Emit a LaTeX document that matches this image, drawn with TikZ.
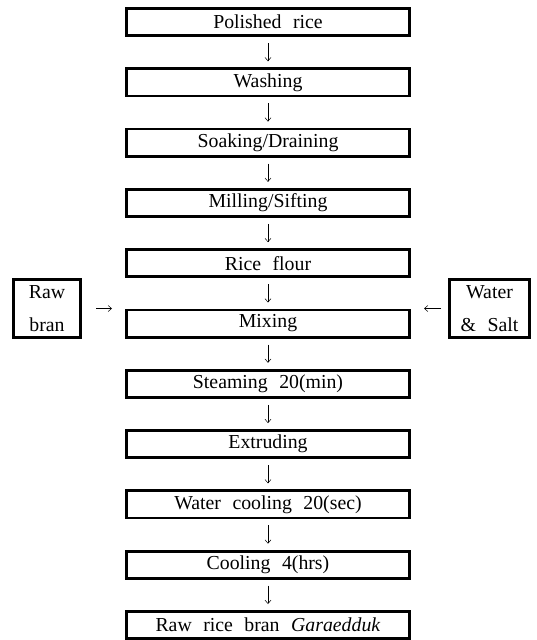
\documentclass[tikz,border=0pt]{standalone}
\usepackage{fontspec}
\setmainfont{Liberation Serif}
\usetikzlibrary{arrows.meta}
\newcommand{\widesp}{\spaceskip=0.58em plus 0.1em\relax}
\tikzset{
  stepbox/.style={draw, line width=2.8pt, minimum width=283.2pt, minimum height=27.2pt, inner sep=0pt,
    font=\fontsize{19.8}{22}\selectfont\widesp},
  sidebox/.style={draw, line width=2.8pt, inner sep=0pt, align=center,
    font=\fontsize{19.8}{33}\selectfont\widesp},
  arr/.style={line width=0.5pt, -{Straight Barb[length=3.5pt,width=6pt]}},
}
\begin{document}
\begin{tikzpicture}[x=1pt,y=-1pt]
\useasboundingbox (0,0) rectangle (536,640);
\node[stepbox] (a) at (268,22.0) {Polished rice};
\node[stepbox] (b) at (268,82.3) {Washing};
\node[stepbox] (c) at (268,142.6) {Soaking/Draining};
\node[stepbox] (d) at (268,202.9) {Milling/Sifting};
\node[stepbox] (e) at (268,263.2) {Rice flour};
\node[stepbox] (f) at (268,323.5) {Mixing};
\node[stepbox] (g) at (268,383.8) {Steaming 20(min)};
\node[stepbox] (h) at (268,444.1) {Extruding};
\node[stepbox] (k) at (268,504.4) {Water cooling 20(sec)};
\node[stepbox] (l) at (268,564.7) {Cooling 4(hrs)};
\node[stepbox] (m) at (268,625.0) {Raw rice bran \textit{Garaedduk}};
\node[sidebox, minimum width=67.2pt, minimum height=58.2pt] (rb) at (47,308.5) {Raw\\bran};
\node[sidebox, minimum width=80.2pt, minimum height=58.2pt] (ws) at (489.5,308.5) {Water\\\& Salt};
\foreach \u/\v in {a/b, b/c, c/d, d/e, e/f, f/g, g/h, h/k, k/l, l/m}
  \draw[arr, shorten <=6pt, shorten >=6pt] (\u.south) -- (\v.north);
\draw[arr, shorten <=14pt, shorten >=13pt] (rb.east) -- (rb.east -| f.west);
\draw[arr, shorten <=7pt, shorten >=13pt] (ws.west) -- (ws.west -| f.east);
\end{tikzpicture}
\end{document}
